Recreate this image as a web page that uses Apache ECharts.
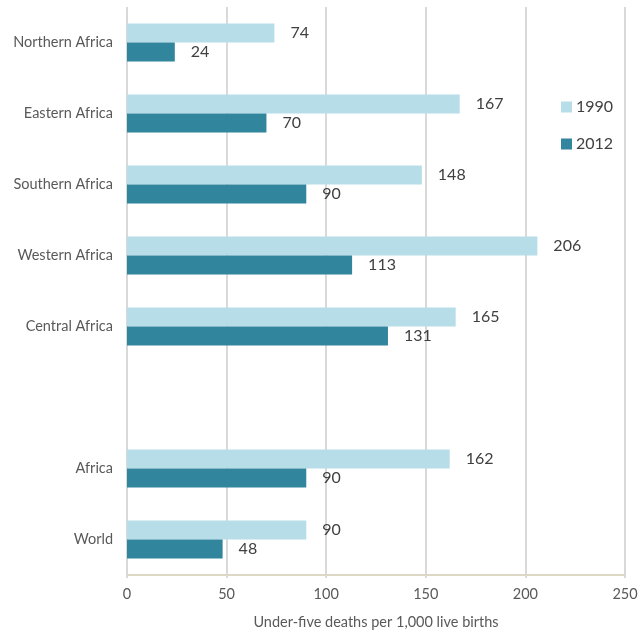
<!DOCTYPE html>
<html>
<head>
<meta charset="utf-8">
<script src="https://cdn.jsdelivr.net/npm/echarts@6/dist/echarts.min.js"></script>
<style>html,body{margin:0;padding:0;background:#fff;}#c{width:640px;height:631px;}</style>
</head>
<body>
<div id="c"></div>
<script>
var categories = ['Northern Africa', 'Eastern Africa', 'Southern Africa', 'Western Africa', 'Central Africa', '', 'Africa', 'World'];
var values1990 = [74, 167, 148, 206, 165, null, 162, 90];
var values2012 = [24, 70, 90, 113, 131, null, 90, 48];
var xTicks = { min: 0, max: 250, interval: 50 };
var axisTitle = 'Under-five deaths per 1,000 live births';

var FONT = 'Lato, "Open Sans", sans-serif';
var chart = echarts.init(document.getElementById('c'), null, { renderer: 'canvas' });
var labelStyle = { show: true, position: 'right', distance: 16, fontSize: 16, color: '#404040', fontFamily: FONT };
chart.setOption({
  animation: false,
  textStyle: { fontFamily: FONT },
  grid: { left: 127, right: 15, top: 7, bottom: 56, containLabel: false, outerBoundsMode: 'none' },
  legend: {
    orient: 'vertical', left: 556, top: 94, itemWidth: 11, itemHeight: 11, itemGap: 21,
    icon: 'rect',
    textStyle: { fontSize: 16, color: '#404040', fontFamily: FONT, padding: [0, 0, 0, -1] },
    data: ['1990', '2012']
  },
  xAxis: {
    type: 'value', min: xTicks.min, max: xTicks.max, interval: xTicks.interval,
    name: axisTitle, nameLocation: 'middle', nameGap: 40,
    nameTextStyle: { fontSize: 14.5, color: '#595959', fontFamily: FONT },
    axisLine: { show: true, lineStyle: { color: '#ddd8c4', width: 2 } },
    axisTick: { show: true, length: 3, lineStyle: { color: '#d9d9d9', width: 2 } },
    axisLabel: { fontSize: 14.5, color: '#595959', margin: 12, fontFamily: FONT },
    splitLine: { show: true, lineStyle: { color: '#d9d9d9', width: 2 } }
  },
  yAxis: {
    type: 'category', data: categories, inverse: true,
    axisLine: { show: false }, axisTick: { show: false },
    axisLabel: { fontSize: 14.5, color: '#595959', margin: 14, fontFamily: FONT }
  },
  series: [
    { name: '1990', type: 'bar', data: values1990, barWidth: 19, barGap: '0%',
      itemStyle: { color: '#b7dde8' }, label: labelStyle },
    { name: '2012', type: 'bar', data: values2012, barWidth: 19, barGap: '0%',
      itemStyle: { color: '#31859c' }, label: labelStyle }
  ]
});
</script>
</body>
</html>
